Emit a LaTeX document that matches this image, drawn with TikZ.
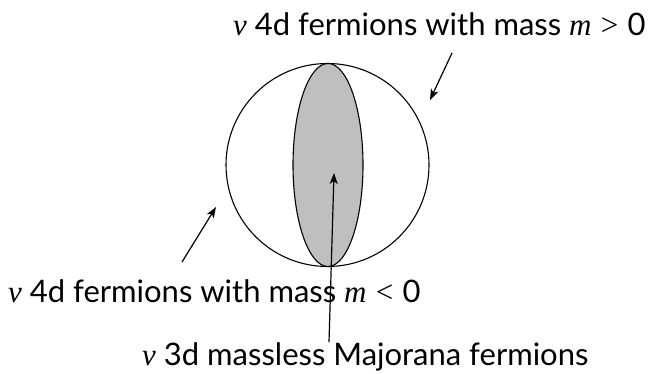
\documentclass[tikz,border=0pt]{standalone}
\usepackage{fontspec}
\setmainfont{Lato}
\newfontfamily\serifrm{Liberation Serif}
\newcommand\myit[1]{{\serifrm\itshape #1}}
\newcommand\rel[1]{\hspace{0.3em}{\serifrm #1}\hspace{0.3em}}
\usetikzlibrary{arrows.meta,shapes.geometric}
\begin{document}
\begin{tikzpicture}[x=1pt,y=-1pt,
  lbl/.style={font=\fontsize{31}{35}\selectfont, inner sep=0pt, anchor=base west},
  ptr/.style={line width=1.2pt,-{Stealth[length=11pt,width=8pt,inset=3pt]}}]
\useasboundingbox (0,0) rectangle (650,374);
\node[circle, draw, line width=1.1pt, minimum size=203pt, inner sep=0pt] (sphere) at (327.5,165) {};
\node[ellipse, draw, fill=black!25, line width=1.1pt, minimum width=70pt, minimum height=203pt, inner sep=0pt] (disc) at (328,165) {};
\node[lbl] (top) at (233,36) {\myit{ν} 4d fermions with mass \myit{m}\rel{>}0};
\node[lbl] (left) at (8,302) {\myit{ν} 4d fermions with mass \myit{m}\rel{<}0};
\node[lbl] (bot) at (142,365) {\myit{ν} 3d massless Majorana fermions};
\coordinate (a1s) at (452,53);
\coordinate (a1e) at (430,100);
\coordinate (a2s) at (182,262);
\coordinate (a2e) at (216,207);
\coordinate (a3s) at (329,342);
\coordinate (a3e) at (334,173);
\draw[ptr] (a1s) -- (a1e);
\draw[ptr] (a2s) -- (a2e);
\draw[ptr] (a3s) -- (a3e);
\end{tikzpicture}
\end{document}
